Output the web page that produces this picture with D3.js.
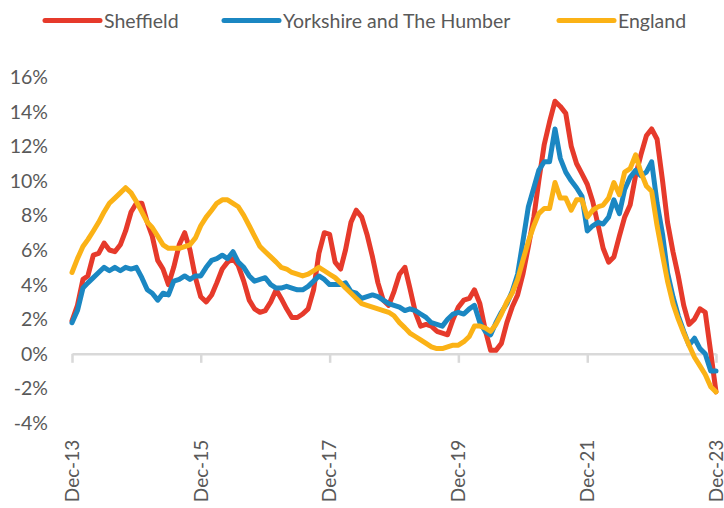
<!DOCTYPE html>
<html>
<head>
<meta charset="utf-8">
<script src="https://cdn.jsdelivr.net/npm/d3@7"></script>
<style>
  body { margin: 0; background: #fff; }
  svg { display: block; font-family: Lato, "Open Sans", sans-serif; }
</style>
</head>
<body>
<script>
// monthly annual % change, Dec-13 .. Dec-23
const sheffield = [
  1.9, 2.8, 4.3, 4.5, 5.7, 5.8, 6.4, 6.0, 5.9, 6.3,
  7.1, 8.2, 8.7, 8.7, 7.6, 6.8, 5.4, 4.9, 4.0, 5.0,
  6.3, 7.0, 6.0, 4.4, 3.3, 3.0, 3.4, 4.1, 4.9, 5.3,
  5.5, 5.1, 4.2, 3.1, 2.6, 2.4, 2.5, 3.0, 3.7, 3.2,
  2.6, 2.1, 2.1, 2.3, 2.6, 3.7, 5.8, 7.0, 6.9, 5.3,
  4.9, 6.0, 7.6, 8.3, 7.9, 6.9, 5.6, 4.1, 3.1, 2.8,
  3.6, 4.6, 5.0, 3.8, 2.4, 1.6, 1.7, 1.6, 1.3, 1.2,
  1.1, 2.0, 2.7, 3.1, 3.2, 3.7, 2.9, 1.4, 0.2, 0.2,
  0.6, 1.8, 2.7, 3.4, 4.6, 6.2, 7.9, 10.0, 12.1, 13.4,
  14.6, 14.3, 13.9, 12.0, 11.0, 10.4, 9.8, 8.8, 7.4, 6.1,
  5.3, 5.6, 6.8, 7.9, 8.6, 10.3, 11.5, 12.6, 13.0, 12.4,
  10.0, 7.6, 5.9, 4.5, 2.8, 1.7, 2.0, 2.6, 2.4, 0.1,
  -2.2
];
const yorkshire = [
  1.8, 2.5, 3.8, 4.1, 4.4, 4.7, 5.0, 4.8, 5.0, 4.8,
  5.0, 4.9, 5.0, 4.4, 3.7, 3.5, 3.1, 3.5, 3.4, 4.2,
  4.3, 4.5, 4.3, 4.5, 4.5, 5.0, 5.4, 5.5, 5.7, 5.5,
  5.9, 5.3, 5.0, 4.5, 4.2, 4.3, 4.4, 4.0, 3.8, 3.8,
  3.9, 3.8, 3.7, 3.7, 3.9, 4.2, 4.5, 4.3, 4.0, 4.0,
  4.0, 4.1, 3.6, 3.5, 3.2, 3.3, 3.4, 3.3, 3.1, 2.9,
  2.8, 2.7, 2.5, 2.6, 2.5, 2.3, 2.1, 1.8, 1.7, 1.6,
  2.0, 2.3, 2.4, 2.3, 2.6, 2.8, 1.8, 1.3, 1.1, 1.8,
  2.4, 2.9, 3.6, 4.6, 6.5, 8.5, 9.6, 10.6, 11.1, 11.1,
  13.0, 11.3, 10.5, 10.0, 9.6, 9.1, 7.1, 7.4, 7.6, 7.5,
  7.9, 8.9, 8.1, 9.5, 10.2, 10.6, 10.3, 10.5, 11.1, 8.7,
  6.9, 4.7, 3.3, 2.2, 1.3, 0.5, 0.9, 0.3, 0.0, -1.0,
  -1.0
];
const england = [
  4.7, 5.5, 6.2, 6.6, 7.1, 7.6, 8.2, 8.7, 9.0, 9.3,
  9.6, 9.3, 8.8, 8.2, 7.6, 7.3, 6.8, 6.3, 6.1, 6.1,
  6.1, 6.2, 6.3, 6.7, 7.4, 7.9, 8.3, 8.7, 8.9, 8.9,
  8.7, 8.5, 8.0, 7.4, 6.8, 6.2, 5.9, 5.6, 5.3, 5.0,
  4.9, 4.7, 4.6, 4.5, 4.6, 4.8, 5.0, 4.8, 4.6, 4.4,
  4.1, 3.8, 3.5, 3.2, 2.9, 2.8, 2.7, 2.6, 2.5, 2.4,
  2.2, 1.8, 1.5, 1.2, 1.0, 0.8, 0.6, 0.4, 0.3, 0.3,
  0.4, 0.5, 0.5, 0.7, 1.0, 1.6, 1.6, 1.5, 1.3, 1.7,
  2.3, 3.0, 3.5, 4.3, 5.4, 6.5, 7.4, 8.1, 8.4, 8.4,
  9.9, 9.0, 9.0, 8.3, 8.9, 8.9, 7.9, 8.3, 8.5, 8.6,
  9.0, 9.9, 9.2, 10.5, 10.7, 11.5, 10.5, 9.7, 9.4, 7.4,
  5.7, 4.2, 2.9, 2.0, 1.2, 0.5, -0.2, -0.7, -1.2, -1.9,
  -2.2
];

const seriesNames = ['Sheffield', 'Yorkshire and The Humber', 'England'];
const seriesColors = ['#e63a2b', '#1b87c2', '#fbb216'];
const tickLabels = ['Dec-13', 'Dec-15', 'Dec-17', 'Dec-19', 'Dec-21', 'Dec-23'];
const yTicks = [-4, -2, 0, 2, 4, 6, 8, 10, 12, 14, 16];

const width = 724;
const height = 508;
const textColor = '#595959';
const gridColor = '#d9d9d9';

const months = d3.timeMonth.range(new Date(2013, 11, 1), new Date(2024, 0, 1));
const tickDates = months.filter((d, i) => i % 24 === 0);

const svg = d3.select('body').append('svg').attr('width', width).attr('height', height);

const x = d3.scaleTime().domain([months[0], months[months.length - 1]]).range([72, 716]);
const y = d3.scaleLinear().domain([-4, 16]).range([423, 77]);

// y labels (no axis line in the original)
svg.append('g')
  .attr('id', 'y-axis')
  .selectAll('text')
  .data(yTicks)
  .enter()
  .append('text')
  .attr('x', 48)
  .attr('y', d => y(d))
  .attr('dy', '0.36em')
  .attr('text-anchor', 'end')
  .attr('fill', textColor)
  .style('font-size', '19.5px')
  .text(d => `${d}%`);

// x axis sits on the zero line
const xAxis = svg.append('g')
  .attr('id', 'x-axis')
  .attr('transform', `translate(0, ${y(0)})`)
  .call(d3.axisBottom(x).tickValues(tickDates).tickSize(9).tickSizeOuter(0)
    .tickFormat((d, i) => tickLabels[i]));

xAxis.select('.domain').attr('stroke', gridColor).attr('stroke-width', 2.5);
xAxis.selectAll('.tick line').attr('stroke', gridColor).attr('stroke-width', 2.5);
xAxis.selectAll('.tick text')
  .attr('transform', 'rotate(-90)')
  .attr('x', -86)
  .attr('y', 0)
  .attr('dy', '0.33em')
  .attr('text-anchor', 'end')
  .attr('fill', textColor)
  .style('font-size', '19px')
  .style('font-family', 'Lato, "Open Sans", sans-serif');

const line = d3.line()
  .x((d, i) => x(months[i]))
  .y(d => y(d));

const allSeries = [sheffield, yorkshire, england];

// England drawn last so it sits on top, like the source
svg.append('g')
  .selectAll('path')
  .data(allSeries)
  .enter()
  .append('path')
  .attr('d', d => line(d))
  .attr('fill', 'none')
  .attr('stroke', (d, i) => seriesColors[i])
  .attr('stroke-width', 5)
  .attr('stroke-linejoin', 'round')
  .attr('stroke-linecap', 'round');

// legend
const legendX = [45, 224, 559];
const legend = svg.append('g').attr('id', 'legend');

legend.selectAll('line')
  .data(seriesNames)
  .enter()
  .append('line')
  .attr('x1', (d, i) => legendX[i])
  .attr('x2', (d, i) => legendX[i] + 55)
  .attr('y1', 20.5)
  .attr('y2', 20.5)
  .attr('stroke', (d, i) => seriesColors[i])
  .attr('stroke-width', 5)
  .attr('stroke-linecap', 'round');

legend.selectAll('text')
  .data(seriesNames)
  .enter()
  .append('text')
  .attr('x', (d, i) => legendX[i] + 59)
  .attr('y', 27.5)
  .attr('fill', textColor)
  .style('font-size', '19.5px')
  .text(d => d);
</script>
</body>
</html>
